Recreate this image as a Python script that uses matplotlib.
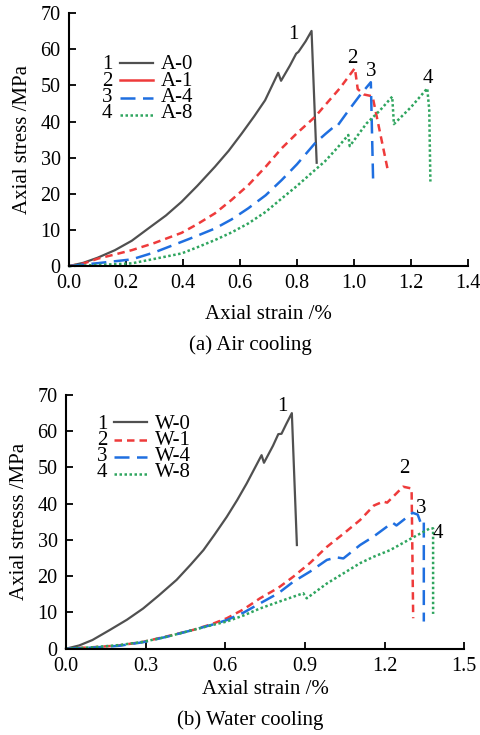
import matplotlib
matplotlib.use("Agg")
import matplotlib.pyplot as plt
from matplotlib.lines import Line2D

plt.rcParams['font.family'] = ['Liberation Serif', 'DejaVu Serif']
plt.rcParams['font.size'] = 14.5

# ---------------- data: (a) Air cooling ----------------
a0_x = [0, 0.05, 0.1, 0.161, 0.22, 0.278, 0.34, 0.395, 0.45, 0.512, 0.56, 0.606, 0.65, 0.688, 0.734, 0.744, 0.775, 0.797, 0.805, 0.83, 0.851, 0.869]
a0_y = [0, 0.9, 2.3, 4.4, 7.0, 10.4, 14.0, 17.8, 22.2, 27.5, 31.9, 36.7, 41.5, 45.9, 53.5, 51.3, 55.5, 58.8, 59.3, 62.2, 65.1, 28.6]

a1_x = [0, 0.05, 0.103, 0.16, 0.22, 0.3, 0.395, 0.45, 0.512, 0.57, 0.629, 0.69, 0.746, 0.8, 0.863, 0.898, 0.95, 1.003, 1.013, 1.035, 1.065, 1.12]
a1_y = [0, 0.7, 2.1, 3.2, 4.4, 6.4, 9.2, 11.6, 14.6, 18.3, 22.4, 27.5, 32.6, 36.8, 41.3, 44.5, 49.2, 54.8, 49.0, 47.5, 47.0, 26.0]

a4_x = [0, 0.1, 0.22, 0.3, 0.395, 0.45, 0.512, 0.57, 0.629, 0.69, 0.746, 0.8, 0.863, 0.9, 0.927, 0.937, 0.98, 1.02, 1.059, 1.067]
a4_y = [0, 0.8, 1.85, 3.8, 6.7, 8.4, 10.4, 12.9, 16.0, 19.6, 23.8, 28.2, 34.0, 36.6, 38.4, 38.3, 43.0, 47.2, 50.9, 23.8]

a8_x = [0, 0.1, 0.22, 0.3, 0.395, 0.45, 0.512, 0.57, 0.629, 0.69, 0.746, 0.8, 0.863, 0.898, 0.94, 0.98, 0.985, 1.044, 1.09, 1.134, 1.140, 1.2, 1.257, 1.264, 1.268]
a8_y = [0, 0.3, 0.75, 2.0, 3.5, 5.2, 7.2, 9.3, 11.8, 15.0, 18.7, 22.2, 26.6, 29.0, 32.6, 36.3, 33.2, 39.5, 43.0, 46.9, 39.3, 44.0, 49.2, 43.2, 23.4]

# ---------------- data: (b) Water cooling ----------------
w0_x = [0, 0.05, 0.1, 0.166, 0.23, 0.291, 0.35, 0.417, 0.47, 0.518, 0.56, 0.606, 0.645, 0.681, 0.737, 0.746, 0.78, 0.8, 0.812, 0.83, 0.851, 0.87]
w0_y = [0, 0.9, 2.4, 5.2, 8.0, 11.1, 14.7, 19.0, 23.2, 27.2, 31.5, 36.4, 41.0, 45.6, 53.4, 51.3, 56.0, 59.2, 59.3, 62.0, 65.0, 28.6]

w1_x = [0, 0.1, 0.2, 0.291, 0.38, 0.48, 0.55, 0.606, 0.67, 0.731, 0.8, 0.857, 0.92, 0.983, 1.05, 1.108, 1.16, 1.195, 1.21, 1.27, 1.302, 1.308]
w1_y = [0, 0.4, 0.9, 1.9, 3.4, 5.2, 6.8, 8.4, 10.9, 13.9, 16.8, 19.9, 23.7, 28.1, 32.0, 35.5, 39.5, 40.6, 40.3, 44.7, 44.2, 8.4]

w4_x = [0, 0.1, 0.2, 0.291, 0.38, 0.48, 0.55, 0.606, 0.67, 0.731, 0.8, 0.857, 0.92, 0.983, 1.02, 1.045, 1.108, 1.16, 1.23, 1.245, 1.306, 1.325, 1.336, 1.348, 1.348]
w4_y = [0, 0.3, 0.8, 1.8, 3.3, 5.2, 6.6, 7.9, 10.0, 12.5, 15.3, 18.5, 21.3, 24.5, 25.2, 24.9, 28.6, 31.0, 34.8, 34.0, 37.5, 37.0, 34.8, 35.5, 7.5]

w8_x = [0, 0.1, 0.2, 0.291, 0.38, 0.48, 0.55, 0.606, 0.67, 0.731, 0.8, 0.894, 0.907, 0.983, 1.05, 1.108, 1.16, 1.221, 1.3, 1.371, 1.383, 1.383]
w8_y = [0, 0.4, 1.0, 1.9, 3.3, 5.2, 6.5, 7.5, 9.2, 11.1, 12.9, 15.3, 13.9, 18.0, 21.0, 23.6, 25.4, 27.2, 30.4, 33.2, 33.2, 9.6]

a_labels = ['A-0', 'A-1', 'A-4', 'A-8']
w_labels = ['W-0', 'W-1', 'W-4', 'W-8']
numbers = ['1', '2', '3', '4']

a_peak_pos = [(0.787, 64.0), (0.993, 57.5), (1.061, 53.8), (1.26, 52.0)]
w_peak_pos = [(0.817, 66.8), (1.274, 49.8), (1.34, 38.7), (1.40, 31.8)]

colors = ['#505050', '#ee3b3b', '#1f6fe0', '#2fa55f']
styles = [dict(ls='-', lw=1.6),
          dict(ls=(0, (3, 2)), lw=1.8),
          dict(ls=(0, (6, 3)), lw=1.8),
          dict(ls=(0, (1, 1)), lw=1.8)]

fig = plt.figure(figsize=(4.81, 7.35), dpi=100)
ax1 = fig.add_axes([0.1435, 0.638, 0.8295, 0.344])
ax2 = fig.add_axes([0.137, 0.1174, 0.828, 0.3452])


def style_axes(ax, xmax, xticks, xlabels):
    ax.set_xlim(0, xmax)
    ax.set_ylim(0, 70)
    ax.set_xticks(xticks)
    ax.set_xticklabels(xlabels)
    ax.set_yticks(range(0, 71, 10))
    for s in ['top', 'right']:
        ax.spines[s].set_visible(False)
    for s in ['left', 'bottom']:
        ax.spines[s].set_linewidth(1.5)
    ax.tick_params(direction='in', length=5, width=1.3, pad=6)


def draw_panel(ax, series, labels, peaks, legend_ys, leg_x, solid_second):
    for i, (x, y) in enumerate(series):
        ax.plot(x, y, color=colors[i], clip_on=False, **styles[i])
    for i, (px, py) in enumerate(peaks):
        ax.text(px, py, numbers[i], ha='center', va='center', fontsize=15)
    # legend (manual): lines + two multi-line text blocks
    nx, l0, l1, tx = leg_x
    for i, ly in enumerate(legend_ys):
        st = dict(styles[i])
        if i == 1 and solid_second:
            st['ls'] = '-'
        ax.add_line(Line2D([l0, l1], [ly, ly], transform=ax.transAxes, color=colors[i], **st))
    yc = sum(legend_ys) / len(legend_ys)
    ax.text(nx, yc, '\n'.join(numbers), transform=ax.transAxes, ha='center', va='center',
            fontsize=15, linespacing=0.8)
    ax.text(tx, yc, '\n'.join(labels), transform=ax.transAxes, ha='left', va='center',
            fontsize=15, linespacing=0.8)


style_axes(ax1, 1.4, [0, 0.2, 0.4, 0.6, 0.8, 1.0, 1.2, 1.4],
           ['0.0', '0.2', '0.4', '0.6', '0.8', '1.0', '1.2', '1.4'])
draw_panel(ax1, [(a0_x, a0_y), (a1_x, a1_y), (a4_x, a4_y), (a8_x, a8_y)], a_labels, a_peak_pos,
           [(266 - 63) / 253, (266 - 80) / 253, (266 - 98) / 253, (266 - 115) / 253],
           ((107 - 69) / 399, (120 - 69) / 399, (153 - 69) / 399, (161 - 69) / 399), True)
ax1.set_xlabel('Axial strain /%', fontsize=15, labelpad=8)
ax1.set_ylabel('Axial stress /MPa', fontsize=15, labelpad=6)

style_axes(ax2, 1.5, [0, 0.3, 0.6, 0.9, 1.2, 1.5],
           ['0.0', '0.3', '0.6', '0.9', '1.2', '1.5'])
draw_panel(ax2, [(w0_x, w0_y), (w1_x, w1_y), (w4_x, w4_y), (w8_x, w8_y)], w_labels, w_peak_pos,
           [(648.7 - 422.3) / 253.7, (648.7 - 440) / 253.7, (648.7 - 457.3) / 253.7, (648.7 - 474.3) / 253.7],
           ((102 - 66) / 398, (114 - 66) / 398, (147 - 66) / 398, (155 - 66) / 398), False)
ax2.set_xlabel('Axial strain /%', fontsize=15, labelpad=3)
ax2.set_ylabel('Axial stresss /MPa', fontsize=15, labelpad=6)

fig.text(0.5 + 0.02, 1 - 345 / 735, '(a) Air cooling', ha='center', va='center', fontsize=15)
fig.text(0.5 + 0.02, 1 - 720 / 735, '(b) Water cooling', ha='center', va='center', fontsize=15)

fig.savefig('out.png', dpi=100)
